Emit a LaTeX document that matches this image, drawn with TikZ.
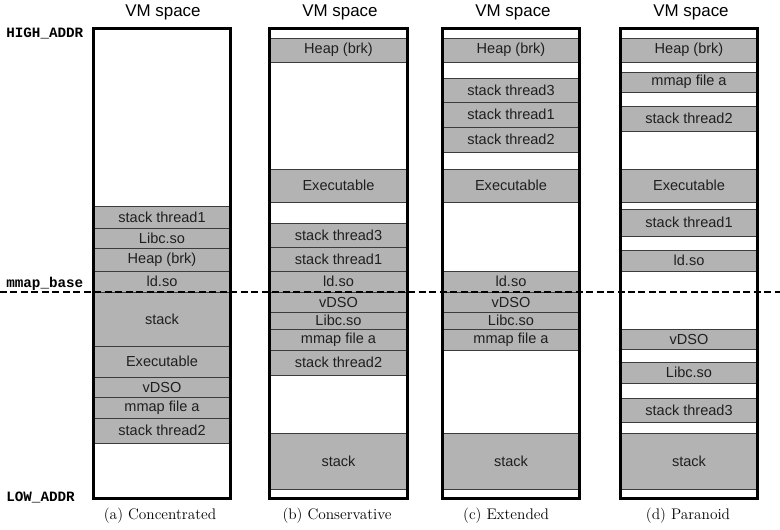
\documentclass[tikz,border=0pt]{standalone}
\usepackage{fontspec}
\newfontfamily\sansf{Liberation Sans}
\newfontfamily\monof{Liberation Mono}
\definecolor{segfill}{RGB}{179,179,179}
\definecolor{segline}{RGB}{60,60,60}
\newcommand\seg[4]{%
  \node[segbox, minimum width={(\xr-\xl)*0.75pt}, minimum height={(#3-#2)*0.75pt}]
    (#1) at ({(\xl+\xr)/2},{(#2+#3)/2}) {#4};}
\newcommand\colframe[1]{%
  \node[framefill, minimum width={(\xr-\xl)*0.75pt}, minimum height={470*0.75pt}]
    (#1) at ({(\xl+\xr)/2},263.5) {};}
\begin{document}
\begin{tikzpicture}[x=0.75pt,y=-0.75pt,
  segbox/.style={draw=segline, line width=0.7pt, fill=segfill, inner sep=0pt,
    font=\sansf\fontsize{10.9}{12}\selectfont, text=black!88},
  framefill/.style={fill=white, draw=none, inner sep=0pt},
  frameline/.style={draw=black, line width=2.3pt},
  vmtitle/.style={font=\sansf\fontsize{12.7}{14}\selectfont, inner sep=0pt},
  addrlabel/.style={font=\monof\bfseries\fontsize{10.7}{12}\selectfont, anchor=west, inner sep=0pt},
  captext/.style={font=\fontsize{11.5}{13}\selectfont, inner sep=0pt},
  mmapline/.style={line width=1.5pt, dash pattern=on 5.25pt off 2.6pt}]
\useasboundingbox (0,0) rectangle (780,529);

% ---------- column (a)
\def\xl{94}\def\xr{230}
\colframe{fa}
\seg{a1}{206}{228}{stack thread1}
\seg{a2}{228}{248}{Libc.so}
\seg{a3}{248}{271}{Heap (brk)}
\seg{a4}{271}{292}{ld.so}
\seg{a5}{292}{346}{stack}
\seg{a6}{346}{377}{Executable}
\seg{a7}{377}{397}{vDSO}
\seg{a8}{397}{418}{mmap file a}
\seg{a9}{418}{443}{stack thread2}
\draw[frameline] (fa.north west) rectangle (fa.south east);
\node[vmtitle] (ta) at (163,12) {VM space};
\node[captext] (ca) at (160,516) {(a) Concentrated};

% ---------- column (b)
\def\xl{270}\def\xr{407}
\colframe{fb}
\seg{b1}{38}{62}{Heap (brk)}
\seg{b2}{169}{202}{Executable}
\seg{b3}{223}{247}{stack thread3}
\seg{b4}{247}{271}{stack thread1}
\seg{b5}{271}{292}{ld.so}
\seg{b6}{292}{312}{vDSO}
\seg{b7}{312}{329}{Libc.so}
\seg{b8}{329}{350}{mmap file a}
\seg{b9}{350}{375}{stack thread2}
\seg{b10}{433}{489}{stack}
\draw[frameline] (fb.north west) rectangle (fb.south east);
\node[vmtitle] (tb) at (340,12) {VM space};
\node[captext] (cb) at (337,516) {(b) Conservative};

% ---------- column (c)
\def\xl{443}\def\xr{579}
\colframe{fc}
\seg{c1}{38}{62}{Heap (brk)}
\seg{c2}{78}{102}{stack thread3}
\seg{c3}{102}{127}{stack thread1}
\seg{c4}{127}{152}{stack thread2}
\seg{c5}{169}{202}{Executable}
\seg{c6}{271}{292}{ld.so}
\seg{c7}{292}{312}{vDSO}
\seg{c8}{312}{329}{Libc.so}
\seg{c9}{329}{350}{mmap file a}
\seg{c10}{433}{489}{stack}
\draw[frameline] (fc.north west) rectangle (fc.south east);
\node[vmtitle] (tc) at (513,12) {VM space};
\node[captext] (cc) at (506,516) {(c) Extended};

% ---------- column (d)
\def\xl{621}\def\xr{757}
\colframe{fd}
\seg{d1}{38}{62}{Heap (brk)}
\seg{d2}{72}{92}{mmap file a}
\seg{d3}{106}{131}{stack thread2}
\seg{d4}{169}{202}{Executable}
\seg{d5}{209}{236}{stack thread1}
\seg{d6}{250}{271}{ld.so}
\seg{d7}{329}{349}{vDSO}
\seg{d8}{362}{383}{Libc.so}
\seg{d9}{398}{422}{stack thread3}
\seg{d10}{433}{489}{stack}
\draw[frameline] (fd.north west) rectangle (fd.south east);
\node[vmtitle] (td) at (691,12) {VM space};
\node[captext] (cd) at (688,516) {(d) Paranoid};

% ---------- address labels and mmap_base line
\node[addrlabel] (hi) at (6,33) {HIGH\_ADDR};
\node[addrlabel] (lo) at (6,497) {LOW\_ADDR};
\node[addrlabel] (mb) at (6,284) {mmap\_base};
\coordinate (dl) at (0,292);
\coordinate (dr) at (780,292);
\draw[mmapline] (dl) -- (dr);
\end{tikzpicture}
\end{document}
